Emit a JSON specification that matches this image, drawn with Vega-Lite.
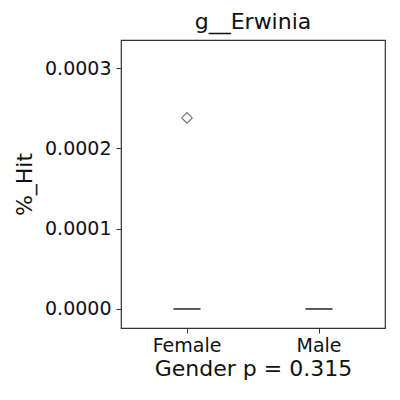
{
  "$schema": "https://vega.github.io/schema/vega-lite/v6.json",
  "autosize": {"type": "none"},
  "width": 264,
  "height": 288,
  "padding": {"left": 121, "top": 40, "right": 15, "bottom": 72},
  "background": "white",
  "config": {
    "font": "DejaVu Sans",
    "view": {"stroke": "#333333", "strokeWidth": 1.2},
    "axis": {"grid": false, "domain": false, "tickColor": "#333333", "tickSize": 5, "labelColor": "#111111", "titleColor": "#111111", "titleFontWeight": "normal", "labelFontSize": 19, "titleFontSize": 22}
  },
  "title": {"text": "g__Erwinia", "fontSize": 22, "fontWeight": "normal", "font": "DejaVu Sans", "color": "#111111", "offset": 6},
  "data": {
    "values": [
      {"Gender": "Female", "Hit": 0},
      {"Gender": "Female", "Hit": 0},
      {"Gender": "Female", "Hit": 0},
      {"Gender": "Female", "Hit": 0},
      {"Gender": "Female", "Hit": 0},
      {"Gender": "Female", "Hit": 0},
      {"Gender": "Female", "Hit": 0},
      {"Gender": "Female", "Hit": 0},
      {"Gender": "Female", "Hit": 0},
      {"Gender": "Female", "Hit": 0.000238},
      {"Gender": "Male", "Hit": 0},
      {"Gender": "Male", "Hit": 0},
      {"Gender": "Male", "Hit": 0},
      {"Gender": "Male", "Hit": 0},
      {"Gender": "Male", "Hit": 0},
      {"Gender": "Male", "Hit": 0},
      {"Gender": "Male", "Hit": 0},
      {"Gender": "Male", "Hit": 0},
      {"Gender": "Male", "Hit": 0},
      {"Gender": "Male", "Hit": 0}
    ]
  },
  "mark": {
    "type": "boxplot",
    "extent": 1.5,
    "size": 27,
    "color": "#333333",
    "box": {"fill": "#ffffff", "strokeWidth": 0, "opacity": 0},
    "median": {"color": "#333333", "fill": "#333333", "thickness": 1.6, "strokeWidth": 0, "opacity": 1},
    "rule": {"color": "#333333", "strokeWidth": 0},
    "ticks": false,
    "outliers": {"shape": "diamond", "filled": false, "color": "#707070", "size": 110, "strokeWidth": 1.1, "opacity": 1}
  },
  "encoding": {
    "x": {
      "field": "Gender", "type": "nominal",
      "scale": {"paddingInner": 0, "paddingOuter": 0},
      "axis": {"labelAngle": 0, "title": "Gender p = 0.315", "labelPadding": 3, "titlePadding": 3}
    },
    "y": {
      "field": "Hit", "type": "quantitative",
      "scale": {"domain": [-0.0000237, 0.000335], "nice": false, "zero": false},
      "axis": {"values": [0, 0.0001, 0.0002, 0.0003], "format": ".4f", "title": "%_Hit", "labelPadding": 5, "titlePadding": 8}
    }
  }
}
